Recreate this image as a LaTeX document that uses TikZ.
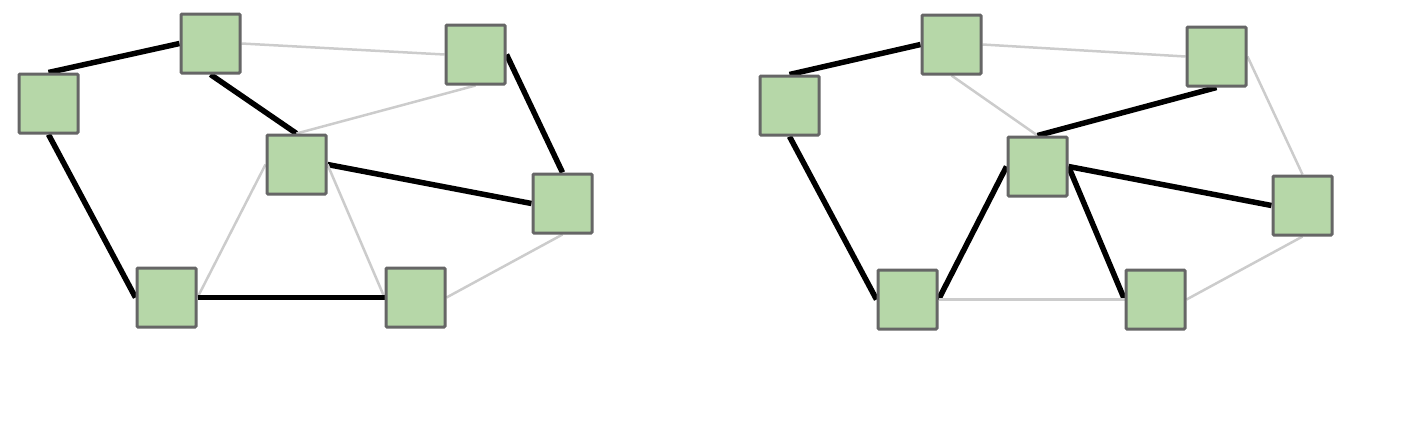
\documentclass[tikz,border=0pt]{standalone}
\usetikzlibrary{backgrounds}
\definecolor{nodefill}{HTML}{B6D7A8}
\definecolor{nodeborder}{HTML}{666666}
\definecolor{lightedge}{HTML}{CCCCCC}
\begin{document}
\begin{tikzpicture}[x=1pt,y=-1pt,
  sq/.style={draw=nodeborder,fill=nodefill,line width=3pt,minimum size=59pt,inner sep=0pt,rounded corners=1pt},
  tree/.style={draw=black,line width=5.5pt},
  other/.style={draw=lightedge,line width=2.5pt}]
\useasboundingbox (0,0) rectangle (1404,424);
% left graph
\node[sq] (A) at (48.5,103.5) {};
\node[sq] (B) at (210.5,43.5) {};
\node[sq] (C) at (475.5,54.5) {};
\node[sq] (D) at (296.5,164.5) {};
\node[sq] (E) at (562.5,203.5) {};
\node[sq] (F) at (166.5,297.5) {};
\node[sq] (G) at (415.5,297.5) {};
% right graph
\node[sq] (A2) at (789.5,105.5) {};
\node[sq] (B2) at (951.5,44.5) {};
\node[sq] (C2) at (1216.5,56.5) {};
\node[sq] (D2) at (1037.5,166.5) {};
\node[sq] (E2) at (1302.5,205.5) {};
\node[sq] (F2) at (907.5,299.5) {};
\node[sq] (G2) at (1155.5,299.5) {};
\begin{scope}[on background layer]
% left edges
\draw[tree] (A.north) -- (B.west);
\draw[other] (B.east) -- (C.west);
\draw[tree] (B.south) -- (D.north);
\draw[other] (C.south) -- (D.north);
\draw[tree] (C.east) -- (E.north);
\draw[tree] (D.east) -- (E.west);
\draw[tree] (A.south) -- (F.west);
\draw[other] (D.west) -- (F.east);
\draw[other] (D.east) -- (G.west);
\draw[tree] (F.east) -- (G.west);
\draw[other] (E.south) -- (G.east);
% right edges
\draw[tree] (A2.north) -- (B2.west);
\draw[other] (B2.east) -- (C2.west);
\draw[other] (B2.south) -- (D2.north);
\draw[tree] (C2.south) -- (D2.north);
\draw[other] (C2.east) -- (E2.north);
\draw[tree] (D2.east) -- (E2.west);
\draw[tree] (A2.south) -- (F2.west);
\draw[tree] (D2.west) -- (F2.east);
\draw[tree] (D2.east) -- (G2.west);
\draw[other] (F2.east) -- (G2.west);
\draw[other] (E2.south) -- (G2.east);
\end{scope}
\end{tikzpicture}
\end{document}
